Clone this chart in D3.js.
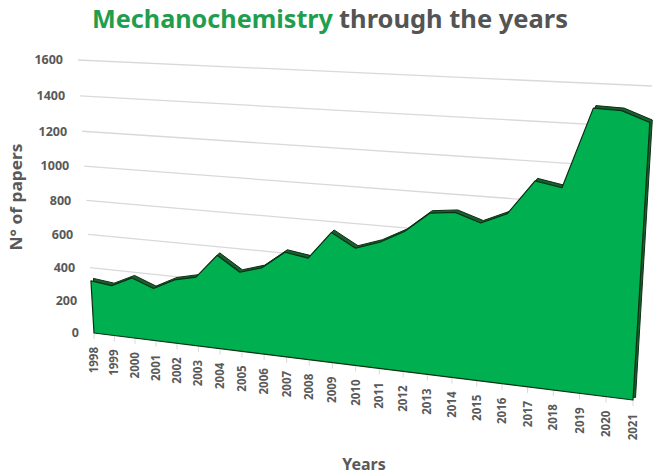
<!DOCTYPE html>
<html>
<head>
<meta charset="utf-8">
<script src="https://cdn.jsdelivr.net/npm/d3@7"></script>
<style>
  body { margin: 0; background: #fff; }
  svg { display: block; }
  text { font-family: "Noto Sans", sans-serif; font-weight: 700; }
</style>
</head>
<body>
<div id="chart"></div>
<script>

var years = [1998, 1999, 2000, 2001, 2002, 2003, 2004, 2005, 2006, 2007, 2008, 2009,
             2010, 2011, 2012, 2013, 2014, 2015, 2016, 2017, 2018, 2019, 2020, 2021];
var papers = [320, 305, 365, 315, 380, 410, 550, 465, 505, 605, 585, 740,
              665, 710, 780, 890, 905, 860, 920, 1100, 1075, 1480, 1475, 1425];
var yTicks = [0, 200, 400, 600, 800, 1000, 1200, 1400, 1600];

var width = 656, height = 474;

var svg = d3.select("#chart").append("svg")
	.attr("width", width).attr("height", height);

// plane coords (0..1) from the two scales, then perspective onto the wall
var u = d3.scaleLinear().domain([1998, 2021]).range([0, 1]);
var v = d3.scaleLinear().domain([0, 1600]).range([0, 1]);

// wall corners on screen: (0,0) (1,0) (1,1) (0,1)
var quad = [[94, 333], [633, 400], [652, 86], [78, 60]];

function squareToQuad(q){
	var x0 = q[0][0], y0 = q[0][1], x1 = q[1][0], y1 = q[1][1],
		x2 = q[2][0], y2 = q[2][1], x3 = q[3][0], y3 = q[3][1];
	var dx1 = x1 - x2, dx2 = x3 - x2, dx3 = x0 - x1 + x2 - x3;
	var dy1 = y1 - y2, dy2 = y3 - y2, dy3 = y0 - y1 + y2 - y3;
	var den = dx1 * dy2 - dx2 * dy1;
	var g = (dx3 * dy2 - dx2 * dy3) / den;
	var h = (dx1 * dy3 - dx3 * dy1) / den;
	var a = x1 - x0 + g * x1, b = x3 - x0 + h * x3, c = x0;
	var d = y1 - y0 + g * y1, e = y3 - y0 + h * y3, f = y0;
	return function(s, t){
		var w = g * s + h * t + 1;
		return [(a * s + b * t + c) / w, (d * s + e * t + f) / w];
	};
}
var H = squareToQuad(quad);
function proj(year, value){ return H(u(year), v(value)); }

var first = years[0], last = years[years.length - 1];

// gridlines
svg.append("g").attr("class", "grid")
	.selectAll("line").data(yTicks.filter(function(d){ return d > 0; })).enter()
	.append("line")
	.attr("x1", function(d){ return proj(first, d)[0]; })
	.attr("y1", function(d){ return proj(first, d)[1]; })
	.attr("x2", function(d){ return proj(last, d)[0]; })
	.attr("y2", function(d){ return proj(last, d)[1]; })
	.attr("stroke", "#d9d9d9")
	.attr("stroke-width", 1.3);

// y labels
svg.append("g").attr("class", "y axis")
	.selectAll("text").data(yTicks).enter()
	.append("text")
	.attr("x", function(d){ return proj(first, d)[0] - 15; })
	.attr("y", function(d){ return proj(first, d)[1]; })
	.attr("dy", "0.35em")
	.attr("text-anchor", "end")
	.attr("font-size", 12.5)
	.attr("fill", "#595959")
	.text(function(d){ return d; });

// x ticks + labels
var xg = svg.append("g").attr("class", "x axis");
xg.selectAll("line").data(years).enter()
	.append("line")
	.attr("x1", function(d){ return proj(d, 0)[0]; })
	.attr("y1", function(d){ return proj(d, 0)[1]; })
	.attr("x2", function(d){ return proj(d, 0)[0]; })
	.attr("y2", function(d){ return proj(d, 0)[1] + 6; })
	.attr("stroke", "#d9d9d9");
xg.selectAll("text").data(years).enter()
	.append("text")
	.attr("transform", function(d){
		var p = proj(d, 0);
		return "translate(" + p[0] + "," + (p[1] + 14) + ") rotate(-90)";
	})
	.attr("dy", "0.35em")
	.attr("text-anchor", "end")
	.attr("font-size", 11.5)
	.attr("fill", "#595959")
	.text(function(d){ return d; });

// area: back face (depth) then front face
var pts = years.map(function(y, i){ return proj(y, papers[i]); });
pts.push(proj(last, 0));
pts.push(proj(first, 0));
var line = d3.line().curve(d3.curveLinearClosed);

var depth = [2.5, -2.5];
svg.append("path")
	.attr("d", line(pts.map(function(p){ return [p[0] + depth[0], p[1] + depth[1]]; })))
	.attr("fill", "#1a5f2f")
	.attr("stroke", "#0b3014")
	.attr("stroke-width", 1)
	.attr("stroke-linejoin", "round");
svg.append("path")
	.attr("d", line(pts))
	.attr("fill", "#00b050")
	.attr("stroke", "#0b3014")
	.attr("stroke-width", 1.2)
	.attr("stroke-linejoin", "round");

// titles
svg.append("text")
	.attr("x", 92).attr("y", 28)
	.attr("font-size", 25)
	.attr("fill", "#1f9e4e")
	.attr("textLength", 241).attr("lengthAdjust", "spacingAndGlyphs")
	.text("Mechanochemistry");
svg.append("text")
	.attr("x", 339).attr("y", 28)
	.attr("font-size", 25)
	.attr("fill", "#545454")
	.attr("textLength", 229).attr("lengthAdjust", "spacingAndGlyphs")
	.text("through the years");

svg.append("text")
	.attr("transform", "translate(22,197) rotate(-90)")
	.attr("text-anchor", "middle")
	.attr("font-size", 16)
	.attr("fill", "#595959")
	.attr("textLength", 107).attr("lengthAdjust", "spacingAndGlyphs")
	.text("N° of papers");

svg.append("text")
	.attr("x", 364).attr("y", 470)
	.attr("text-anchor", "middle")
	.attr("font-size", 16)
	.attr("fill", "#595959")
	.text("Years");

</script>
</body>
</html>
